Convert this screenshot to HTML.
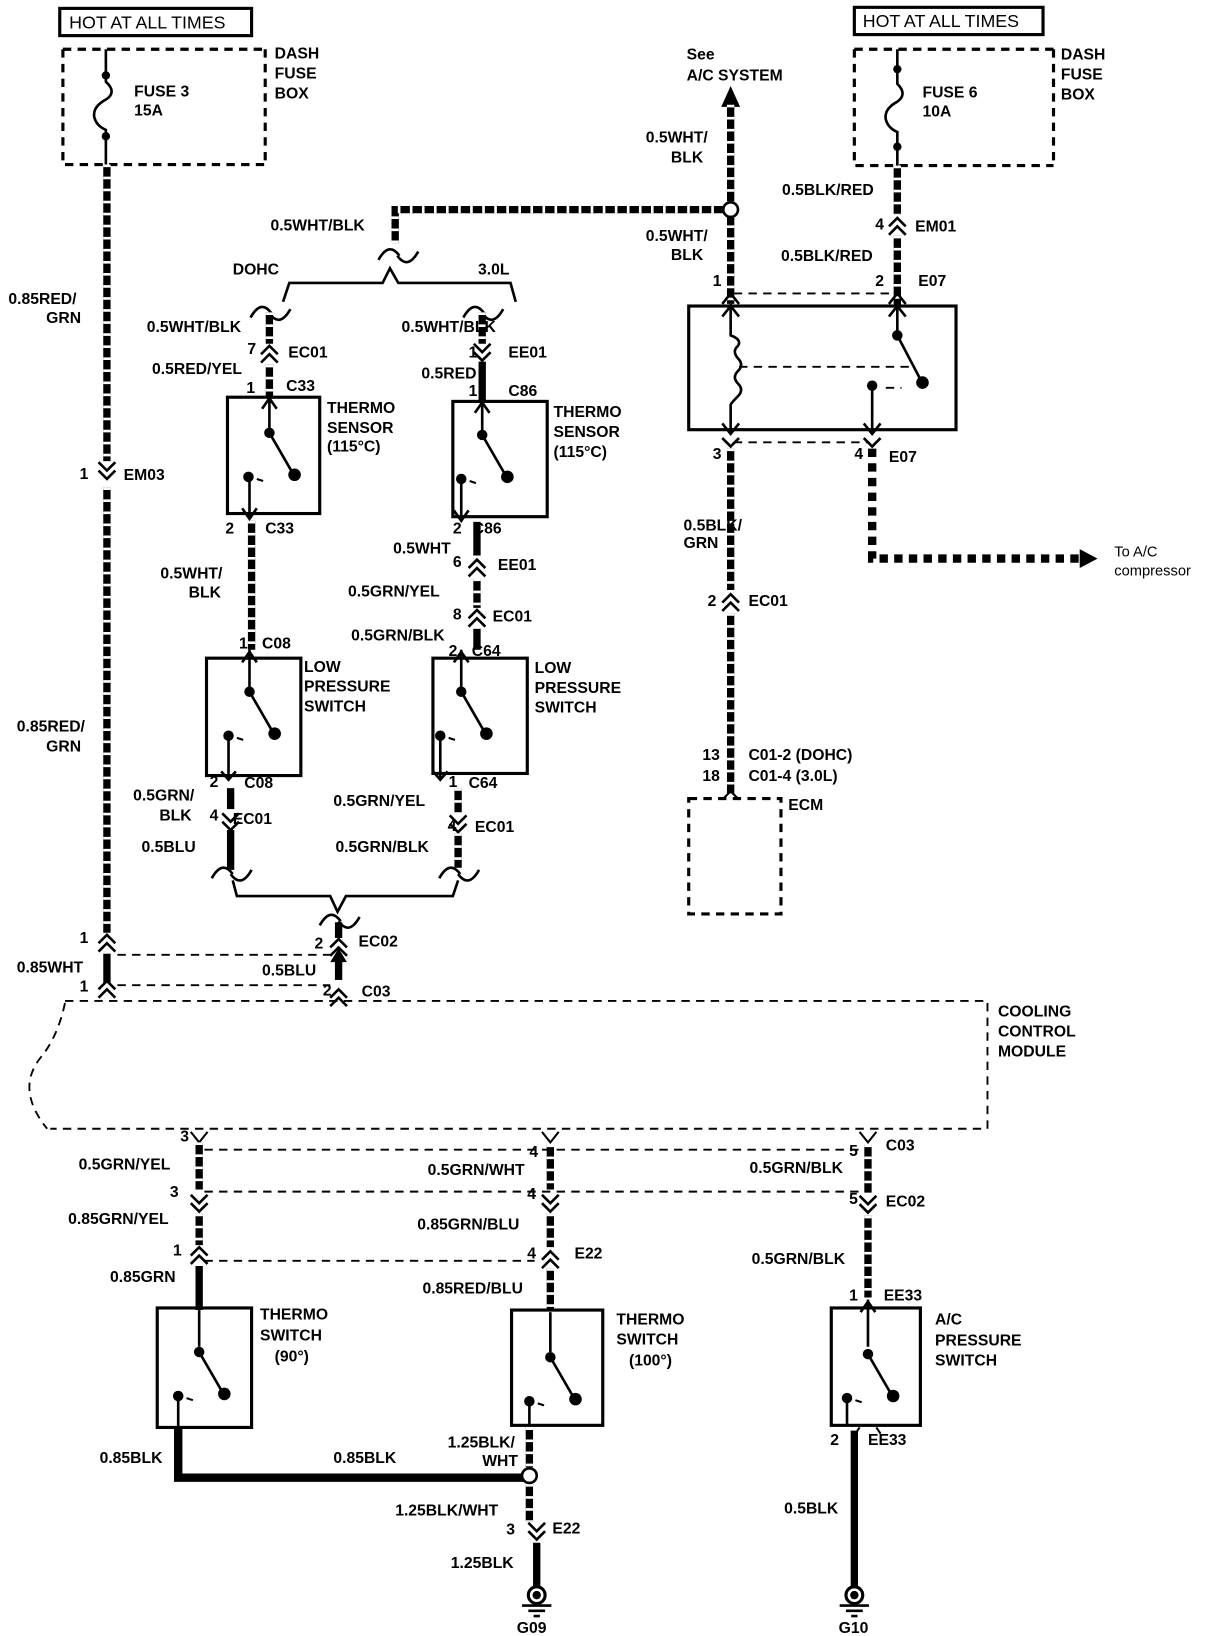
<!DOCTYPE html>
<html><head><meta charset="utf-8"><style>
html,body{margin:0;padding:0;background:#fff;}
svg{display:block;}
text{font-family:"Liberation Sans",sans-serif;font-weight:bold;font-size:15px;fill:#000;}
.n{font-weight:normal;font-size:17px;}
.w{stroke:#000;stroke-width:7;fill:none;}
.wd{stroke:#fff;stroke-width:7;fill:none;stroke-dasharray:2.5 9;}
.s{stroke:#000;stroke-width:7;fill:none;}
.d{stroke:#000;stroke-width:1.8;fill:none;stroke-dasharray:8 6;}
.l{stroke:#000;stroke-width:2.5;fill:none;}
.b{stroke:#000;stroke-width:3;fill:none;}
</style></head><body>
<svg width="1216" height="1636" viewBox="0 0 1160 1561" preserveAspectRatio="none" xmlns="http://www.w3.org/2000/svg">
<defs>
<g id="cu"><path d="M-8,6 L0,-2 L8,6 M-8,14 L0,6 L8,14" stroke="#000" stroke-width="2.5" fill="none"/></g>
<g id="cd"><path d="M-8,-6 L0,2 L8,-6 M-8,-14 L0,-6 L8,-14" stroke="#000" stroke-width="2.5" fill="none"/></g>
<g id="arc"><path d="M-18,8 Q-8,-10 2,4 M0,4 Q10,18 20,0" stroke="#000" stroke-width="2.5" fill="none"/></g>
<g id="sw">
<circle cx="0" cy="30" r="5"/><path d="M0,30 L22,68" stroke="#000" stroke-width="2.5"/><circle cx="24" cy="70" r="6"/>
<circle cx="-20" cy="72" r="5"/><path d="M-12,74 l6,2" stroke="#000" stroke-width="2"/>
</g>
</defs>

<rect x="57" y="8" width="183" height="26" fill="none" stroke="#000" stroke-width="3"/>
<text class="n" x="66" y="27">HOT AT ALL TIMES</text>
<rect x="815" y="7" width="180" height="26" fill="none" stroke="#000" stroke-width="3"/>
<text class="n" x="823" y="26">HOT AT ALL TIMES</text>

<path class="d" d="M60,47 H253 M60,47 V157 H253 M253,47 V157" style="stroke-width:3"/>
<path class="l" d="M101,47 V78 Q112,88 101,95 Q88,102 90,112 Q92,120 101,124 V157"/>
<circle cx="101" cy="72" r="4"/><circle cx="101" cy="130" r="4"/>
<text x="128" y="92">FUSE 3</text><text x="128" y="110">15A</text>
<text x="262" y="56">DASH</text><text x="262" y="75">FUSE</text><text x="262" y="94">BOX</text>

<path class="d" d="M815,47 H1005 M815,47 V158 H1005 M1005,47 V158" style="stroke-width:3"/>
<path class="l" d="M856,47 V80 Q866,90 856,97 Q843,104 845,114 Q847,122 856,126 V158"/>
<circle cx="856" cy="66" r="4"/><circle cx="856" cy="140" r="4"/>
<text x="880" y="93">FUSE 6</text><text x="880" y="111">10A</text>
<text x="1012" y="57">DASH</text><text x="1012" y="76">FUSE</text><text x="1012" y="95">BOX</text>

<path class="w" d="M102,157 V440 M102,465 V890"/><path class="wd" d="M102,157 V440 M102,465 V890"/>
<use href="#cd" x="102" y="455"/>
<text x="76" y="457">1</text><text x="118" y="458">EM03</text>
<text x="8" y="290">0.85RED/</text><text x="44" y="308">GRN</text>
<text x="16" y="698">0.85RED/</text><text x="44" y="717">GRN</text>
<use href="#cu" x="102" y="894"/>
<use href="#cu" x="102" y="938"/>
<path class="s" d="M102,910 V938"/>
<text x="76" y="900">1</text><text x="16" y="928">0.85WHT</text><text x="76" y="946">1</text>
<path class="d" d="M112,911 H318 M112,940 H315"/>

<use href="#arc" x="323" y="875"/>
<path class="s" d="M323,880 V895"/>
<use href="#cu" x="323" y="898"/>
<path class="s" d="M323,915 V935"/><path d="M315,918 L323,905 L331,918 Z"/>
<text x="300" y="905">2</text><text x="342" y="903">EC02</text>
<text x="250" y="931">0.5BLU</text>
<use href="#cu" x="323" y="946"/>
<text x="308" y="950">2</text><text x="345" y="951">C03</text>

<path class="d" d="M62,955 H942 V1077 H48" />
<path class="d" d="M62,957 Q55,990 38,1010 Q15,1040 45,1077"/>
<text x="952" y="970">COOLING</text><text x="952" y="989">CONTROL</text><text x="952" y="1008">MODULE</text>

<text x="655" y="57">See</text><text x="655" y="77">A/C SYSTEM</text>
<path d="M688,102 L697,82 L706,102 Z"/>
<path class="w" d="M697,100 V290"/><path class="wd" d="M697,100 V290"/>
<path class="w" d="M377,232 V200 H690"/><path class="wd" d="M377,232 V200 H690"/>
<circle cx="697" cy="200" r="7" fill="#fff" stroke="#000" stroke-width="2.5"/>
<text x="258" y="220">0.5WHT/BLK</text>
<text x="616" y="136">0.5WHT/</text><text x="640" y="155">BLK</text>
<text x="616" y="230">0.5WHT/</text><text x="640" y="248">BLK</text>
<use href="#arc" x="379" y="240"/>
<text x="222" y="262">DOHC</text><text x="456" y="262">3.0L</text>
<path class="l" d="M270,288 L276,270 L365,270 L372,256 L380,270 L487,270 L492,288"/>

<use href="#arc" x="257" y="295"/>
<path class="w" d="M257,298 V328"/><path class="wd" d="M257,298 V328"/>
<use href="#cu" x="257" y="332"/>
<path class="w" d="M257,348 V378"/><path class="wd" d="M257,348 V378"/>
<text x="140" y="317">0.5WHT/BLK</text>
<text x="236" y="338">7</text><text x="275" y="341">EC01</text>
<text x="145" y="357">0.5RED/YEL</text>
<text x="235" y="375">1</text><text x="273" y="373">C33</text>
<rect x="217" y="379" width="88" height="111" fill="none" stroke="#000" stroke-width="3"/>
<path class="l" d="M257,380 V410 M250,390 L257,380 L264,390"/>
<use href="#sw" x="257" y="383"/>
<path class="l" d="M238,455 V495 M231,485 L238,495 L245,485"/>
<text x="312" y="394">THERMO</text><text x="312" y="413">SENSOR</text><text x="312" y="431">(115°C)</text>
<text x="215" y="509">2</text><text x="253" y="509">C33</text>
<path class="w" d="M240,497 V620"/><path class="wd" d="M240,497 V620"/>
<text x="153" y="552">0.5WHT/</text><text x="180" y="570">BLK</text>
<text x="228" y="619">1</text><text x="250" y="619">C08</text>
<rect x="197" y="628" width="90" height="112" fill="none" stroke="#000" stroke-width="3"/>
<path class="l" d="M238,620 V660 M231,632 L238,622 L245,632"/>
<use href="#sw" x="238" y="630"/>
<path class="l" d="M218,705 V744 M211,736 L218,744 L225,736"/>
<text x="290" y="641">LOW</text><text x="290" y="660">PRESSURE</text><text x="290" y="679">SWITCH</text>
<text x="200" y="751">2</text><text x="233" y="752">C08</text>
<path class="s" d="M220,752 V772"/>
<use href="#cd" x="220" y="790"/>
<path class="s" d="M220,792 V830"/>
<text x="127" y="764">0.5GRN/</text><text x="152" y="783">BLK</text>
<text x="200" y="783">4</text><text x="222" y="786">EC01</text>
<text x="135" y="813">0.5BLU</text>
<use href="#arc" x="220" y="830"/>

<use href="#arc" x="460" y="295"/>
<path class="w" d="M460,298 V328"/><path class="wd" d="M460,298 V328"/>
<use href="#cd" x="460" y="342"/>
<path class="s" d="M460,345 V382"/>
<text x="383" y="317">0.5WHT/BLK</text>
<text x="447" y="341">1</text><text x="485" y="341">EE01</text>
<text x="402" y="361">0.5RED</text>
<text x="447" y="378">1</text><text x="485" y="378">C86</text>
<rect x="432" y="383" width="90" height="110" fill="none" stroke="#000" stroke-width="3"/>
<path class="l" d="M460,384 V412 M453,394 L460,384 L467,394"/>
<use href="#sw" x="460" y="385"/>
<path class="l" d="M440,457 V497 M433,487 L440,497 L447,487"/>
<text x="528" y="398">THERMO</text><text x="528" y="417">SENSOR</text><text x="528" y="436">(115°C)</text>
<text x="432" y="509">2</text><text x="451" y="509">C86</text>
<path class="s" d="M455,498 V530"/>
<text x="375" y="528">0.5WHT</text>
<use href="#cu" x="455" y="536"/>
<path class="w" d="M455,552 V580"/><path class="wd" d="M455,552 V580"/>
<text x="432" y="541">6</text><text x="475" y="544">EE01</text>
<text x="332" y="569">0.5GRN/YEL</text>
<use href="#cu" x="455" y="584"/>
<path class="s" d="M455,600 V620"/>
<text x="432" y="591">8</text><text x="470" y="593">EC01</text>
<text x="335" y="611">0.5GRN/BLK</text>
<text x="428" y="626">2</text><text x="450" y="626">C64</text>
<rect x="413" y="628" width="90" height="110" fill="none" stroke="#000" stroke-width="3"/>
<path class="l" d="M440,620 V660 M433,632 L440,622 L447,632"/>
<use href="#sw" x="440" y="630"/>
<path class="l" d="M420,705 V744 M413,736 L420,744 L427,736"/>
<text x="510" y="642">LOW</text><text x="510" y="661">PRESSURE</text><text x="510" y="680">SWITCH</text>
<text x="428" y="751">1</text><text x="447" y="752">C64</text>
<path class="w" d="M437,752 V775"/><path class="wd" d="M437,752 V775"/>
<use href="#cd" x="437" y="792"/>
<path class="w" d="M437,795 V828"/><path class="wd" d="M437,795 V828"/>
<text x="318" y="769">0.5GRN/YEL</text>
<text x="427" y="793">4</text><text x="453" y="794">EC01</text>
<text x="320" y="813">0.5GRN/BLK</text>
<use href="#arc" x="437" y="830"/>
<path class="l" d="M222,840 L226,855 L315,855 L322,870 L330,855 L432,855 L437,840"/>

<path class="w" d="M856,158 V205 M856,225 V292"/><path class="wd" d="M856,158 V205 M856,225 V292"/>
<use href="#cu" x="856" y="210"/>
<text x="746" y="186">0.5BLK/RED</text>
<text x="835" y="219">4</text><text x="873" y="221">EM01</text>
<text x="745" y="249">0.5BLK/RED</text>
<text x="680" y="273">1</text><text x="835" y="273">2</text><text x="876" y="273">E07</text>
<path class="d" d="M700,280 H850"/>
<path d="M689,290 L697,280 L705,290 M848,290 L856,280 L864,290" stroke="#000" stroke-width="2.5" fill="none"/>
<rect x="657" y="292" width="255" height="118" fill="none" stroke="#000" stroke-width="3"/>
<path class="l" d="M697,290 V320 Q708,324 704,330 Q698,335 704,342 Q710,348 704,354 Q698,360 704,366 Q710,372 704,378 Q698,384 697,386 V414"/>
<path class="l" d="M689,302 L697,292 L705,302 M689,404 L697,414 L705,404"/>
<path class="d" d="M705,350 H868"/>
<path class="l" d="M856,292 V320 M848,302 L856,292 L864,302"/>
<circle cx="856" cy="320" r="5"/><path class="l" d="M856,320 L878,362"/><circle cx="880" cy="365" r="6"/>
<circle cx="832" cy="368" r="5"/><path class="l" d="M832,368 V414 M824,404 L832,414 L840,404"/>
<path class="d" d="M845,370 H860"/>
<path class="d" d="M700,422 H828"/>
<path d="M689,418 L697,426 L705,418 M824,418 L832,426 L840,418" stroke="#000" stroke-width="2.5" fill="none"/>
<text x="680" y="438">3</text><text x="815" y="438">4</text><text x="848" y="441">E07</text>
<path d="M832,428 V533 H1030" stroke="#000" stroke-width="8" fill="none" stroke-dasharray="8 6"/>
<path d="M1030,524 L1047,533 L1030,542 Z"/>
<text x="1063" y="531" style="font-weight:normal;font-size:14px">To A/C</text>
<text x="1063" y="549" style="font-weight:normal;font-size:14px">compressor</text>
<path class="w" d="M697,428 V563 M697,585 V757"/><path class="wd" d="M697,428 V563 M697,585 V757"/>
<use href="#cu" x="697" y="569"/>
<text x="652" y="506">0.5BLK/</text><text x="652" y="523">GRN</text>
<text x="675" y="578">2</text><text x="714" y="578">EC01</text>
<text x="670" y="725">13</text><text x="670" y="745">18</text>
<text x="714" y="725">C01-2 (DOHC)</text><text x="714" y="745">C01-4 (3.0L)</text>
<path d="M689,763 L697,755 L705,763" stroke="#000" stroke-width="2" fill="none"/>
<path class="d" d="M657,762 H745 V872 H657 Z" style="stroke-width:3"/>
<text x="752" y="773">ECM</text>

<path class="d" d="M195,1097 H820 M195,1137 H820 M195,1203 H510"/>

<path d="M182,1080 L190,1090 L198,1080" stroke="#000" stroke-width="2" fill="none"/>
<path class="w" d="M190,1090 V1135 M190,1158 V1188"/><path class="wd" d="M190,1090 V1135 M190,1158 V1188"/>
<use href="#cd" x="190" y="1154"/>
<use href="#cu" x="190" y="1192"/>
<path class="s" d="M190,1208 V1250"/>
<text x="172" y="1089">3</text><text x="75" y="1116">0.5GRN/YEL</text>
<text x="162" y="1142">3</text><text x="65" y="1168">0.85GRN/YEL</text>
<text x="165" y="1198">1</text><text x="105" y="1223">0.85GRN</text>
<rect x="150" y="1248" width="90" height="114" fill="none" stroke="#000" stroke-width="3"/>
<path class="l" d="M190,1250 V1285"/>
<use href="#sw" x="190" y="1260"/>
<path class="l" d="M170,1332 V1362"/>
<text x="248" y="1259">THERMO</text><text x="248" y="1279">SWITCH</text><text x="262" y="1299">(90°)</text>
<path d="M170,1362 V1410 H500" stroke="#000" stroke-width="8" fill="none"/>
<text x="95" y="1396">0.85BLK</text><text x="318" y="1396">0.85BLK</text>

<path d="M517,1080 L525,1090 L533,1080" stroke="#000" stroke-width="2" fill="none"/>
<path class="w" d="M525,1092 V1135 M525,1158 V1190 M525,1210 V1250"/><path class="wd" d="M525,1092 V1135 M525,1158 V1190 M525,1210 V1250"/>
<use href="#cd" x="525" y="1154"/>
<use href="#cu" x="525" y="1196"/>
<text x="505" y="1104">4</text><text x="408" y="1121">0.5GRN/WHT</text>
<text x="503" y="1144">4</text><text x="398" y="1173">0.85GRN/BLU</text>
<text x="503" y="1201">4</text><text x="548" y="1201">E22</text>
<text x="403" y="1234">0.85RED/BLU</text>
<rect x="488" y="1250" width="87" height="110" fill="none" stroke="#000" stroke-width="3"/>
<path class="l" d="M525,1252 V1290"/>
<use href="#sw" x="525" y="1265"/>
<path class="l" d="M505,1337 V1360"/>
<text x="588" y="1264">THERMO</text><text x="588" y="1283">SWITCH</text><text x="600" y="1303">(100°)</text>
<path class="w" d="M505,1362 V1400 M505,1416 V1452"/><path class="wd" d="M505,1362 V1400 M505,1416 V1452"/>
<circle cx="505" cy="1408" r="7" fill="#fff" stroke="#000" stroke-width="2.5"/>
<text x="427" y="1381">1.25BLK/</text><text x="460" y="1399">WHT</text>
<text x="377" y="1446">1.25BLK/WHT</text>
<use href="#cd" x="512" y="1467"/>
<text x="483" y="1464">3</text><text x="527" y="1463">E22</text>
<path class="s" d="M512,1472 V1515"/>
<text x="430" y="1496">1.25BLK</text>
<circle cx="512" cy="1522" r="8" fill="#fff" stroke="#000" stroke-width="3"/><circle cx="512" cy="1522" r="4"/>
<path class="l" d="M498,1532 H526 M504,1537 H520 M509,1542 H515"/>
<text x="493" y="1558">G09</text>

<path d="M820,1080 L828,1090 L836,1080" stroke="#000" stroke-width="2" fill="none"/>
<path class="w" d="M828,1092 V1138 M828,1160 V1238"/><path class="wd" d="M828,1092 V1138 M828,1160 V1238"/>
<use href="#cd" x="828" y="1155"/>
<text x="810" y="1103">5</text><text x="845" y="1098">C03</text>
<text x="715" y="1119">0.5GRN/BLK</text>
<text x="810" y="1149">5</text><text x="845" y="1151">EC02</text>
<text x="717" y="1206">0.5GRN/BLK</text>
<text x="810" y="1241">1</text><text x="843" y="1241">EE33</text>
<rect x="793" y="1248" width="85" height="112" fill="none" stroke="#000" stroke-width="3"/>
<path class="l" d="M828,1240 V1285 M821,1252 L828,1242 L835,1252"/>
<use href="#sw" x="828" y="1262"/>
<path class="l" d="M808,1334 V1360"/>
<text x="892" y="1264">A/C</text><text x="892" y="1284">PRESSURE</text><text x="892" y="1303">SWITCH</text>
<path d="M820,1362 L816,1368 M836,1362 L840,1368" stroke="#000" stroke-width="2"/>
<text x="792" y="1379">2</text><text x="828" y="1379">EE33</text>
<path class="s" d="M815,1365 V1515"/>
<text x="748" y="1444">0.5BLK</text>
<circle cx="815" cy="1522" r="8" fill="#fff" stroke="#000" stroke-width="3"/><circle cx="815" cy="1522" r="4"/>
<path class="l" d="M801,1532 H829 M807,1537 H823 M812,1542 H818"/>
<text x="800" y="1558">G10</text>
</svg>
</body></html>
